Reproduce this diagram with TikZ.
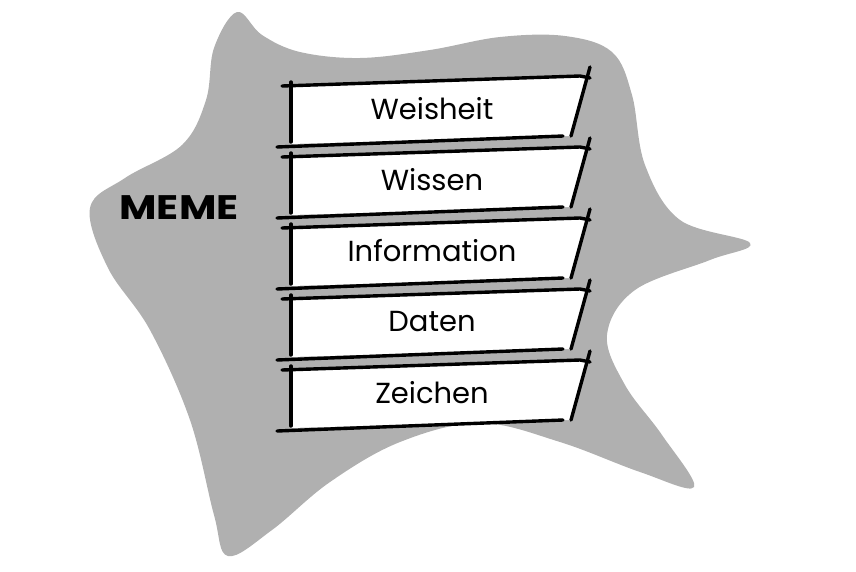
\documentclass[tikz,border=0pt]{standalone}
\usepackage{fontspec}
\setmainfont{Poppins}
\newfontfamily\memefont{Poppins}
\definecolor{blobgray}{RGB}{176,176,176}
\tikzset{
  pen/.style={line width=3.4pt,line cap=round,line join=round,black},
  lbl/.style={font=\fontsize{29}{33}\selectfont,inner sep=0pt},
  boxfill/.style={fill=white,draw=none},
}
\begin{document}
\begin{tikzpicture}[x=1pt,y=-1pt]
\useasboundingbox (0,0) rectangle (856,571);
% blob
\fill[blobgray] plot[smooth cycle,tension=0.6] coordinates {
 (237,12) (262,35) (300,52) (360,58) (430,50) (500,37) (565,36) (612,52)
 (632,95) (645,165) (680,220) (750,243) (710,260) (635,290) (607,335)
 (625,385) (662,435) (694,487) (640,472) (560,442) (480,423) (400,442)
 (330,482) (272,530) (228,556) (214,515) (190,420) (150,330) (108,268)
 (90,208) (125,178) (182,145) (206,100) (214,48)};
% boxes
\foreach \i/\t/\n in {0/Weisheit/bA,1/Wissen/bB,2/Information/bC,3/Daten/bD,4/Zeichen/bE}{
  \begin{scope}[yshift={-71*\i}]
    \fill[boxfill] (291,85) -- (586,76) -- (570,136) -- (291,144) -- cycle;
    \draw[pen] (282,86) -- (580,76) -- (590,78);
    \draw[pen] (590,67) -- (571,136);
    \draw[pen] (291,82) -- (291,142);
    \draw[pen] (277,147) -- (563,136);
    \node[lbl] (\n) at (432,109) {\t};
  \end{scope}
}
\node[font=\memefont\bfseries\fontsize{34}{38}\selectfont,inner sep=0pt,xscale=1.2] (meme) at (179,208) {MEME};
\end{tikzpicture}
\end{document}
